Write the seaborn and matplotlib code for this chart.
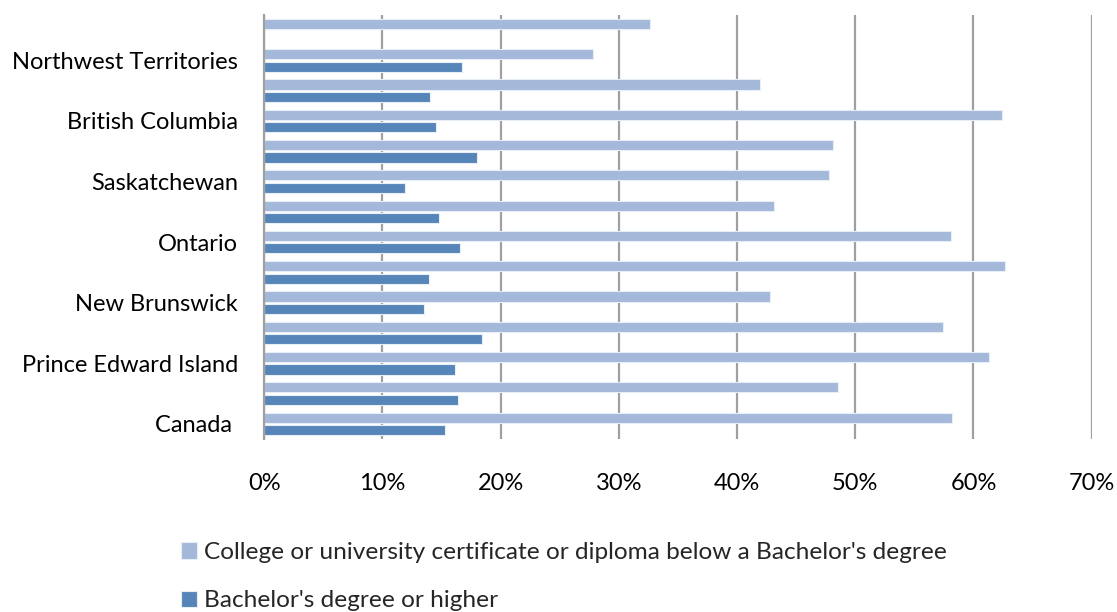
import matplotlib
matplotlib.use("Agg")
import matplotlib.pyplot as plt
import seaborn as sns
import pandas as pd
import numpy as np
from matplotlib.ticker import FuncFormatter

# Regions listed top to bottom as drawn
regions = [
    "Nunavut", "Northwest Territories", "Yukon", "British Columbia", "Alberta",
    "Saskatchewan", "Manitoba", "Ontario", "Quebec", "New Brunswick",
    "Nova Scotia", "Prince Edward Island", "Newfoundland and Labrador", "Canada",
]
college = [32.6, 27.8, 41.9, 62.4, 48.1, 47.8, 43.1, 58.1, 62.7, 42.8, 57.4, 61.3, 48.5, 58.2]
bachelor = [np.nan, 16.7, 14.0, 14.5, 18.0, 11.9, 14.75, 16.6, 13.9, 13.5, 18.4, 16.1, 16.4, 15.3]

# Only every second region carries a visible label
shown_labels = {"Northwest Territories": "Northwest Territories",
                "British Columbia": "British Columbia",
                "Saskatchewan": "Saskatchewan",
                "Ontario": "Ontario",
                "New Brunswick": "New Brunswick",
                "Prince Edward Island": "Prince Edward Island",
                "Canada": "Canada "}

series_names = [
    "College or university certificate or diploma below a Bachelor's degree",
    "Bachelor's degree or higher",
]
colors = ["#A4B8DA", "#5686B9"]
x_ticks = [0, 10, 20, 30, 40, 50, 60, 70]

df = pd.DataFrame({
    "Region": regions * 2,
    "Share": college + bachelor,
    "Level": [series_names[0]] * len(regions) + [series_names[1]] * len(regions),
}).dropna()

sns.set_theme(style="white")
plt.rcParams["font.family"] = ["Lato", "DejaVu Sans"]

FS = 17

fig = plt.figure(figsize=(11.17, 6.12), dpi=100)
ax = fig.add_axes([0.2366, 0.2827, 0.7407, 0.6928])

sns.barplot(
    data=df, y="Region", x="Share", hue="Level", order=regions,
    hue_order=series_names, palette=colors, orient="h",
    width=0.82, gap=0.18, edgecolor="#E8EEF6", linewidth=0.8,
    saturation=1, ax=ax, errorbar=None,
)

ax.set_xlim(0, 70)
ax.set_ylim(len(regions) - 0.5, -0.5)
ax.set_xticks(x_ticks)
ax.xaxis.set_major_formatter(FuncFormatter(lambda v, _: f"{v:.0f}%"))
ax.set_yticks(range(len(regions)))
ax.set_yticklabels([shown_labels.get(r, "") for r in regions])
ax.set_xlabel("")
ax.set_ylabel("")

ax.xaxis.grid(True, color="#A0A0A0", linewidth=1.6)
ax.yaxis.grid(False)
ax.set_axisbelow(True)
for side in ["top", "right", "bottom"]:
    ax.spines[side].set_visible(False)
ax.spines["left"].set_color("#A0A0A0")
ax.spines["left"].set_linewidth(1.6)

ax.tick_params(axis="x", length=0, pad=24.5, labelsize=FS, colors="#000000")
ax.tick_params(axis="y", length=0, pad=19, labelsize=FS, colors="#000000")

handles, labels = ax.get_legend_handles_labels()
ax.get_legend().remove()
fig.legend(
    handles, labels, loc="upper left", bbox_to_anchor=(181 / 1117, 1 - 542 / 612),
    frameon=False, fontsize=17.6, handlelength=0.66, handleheight=0.66,
    handletextpad=0.3, labelspacing=1.12, borderpad=0, borderaxespad=0,
)

fig.savefig("out.png", dpi=100)
